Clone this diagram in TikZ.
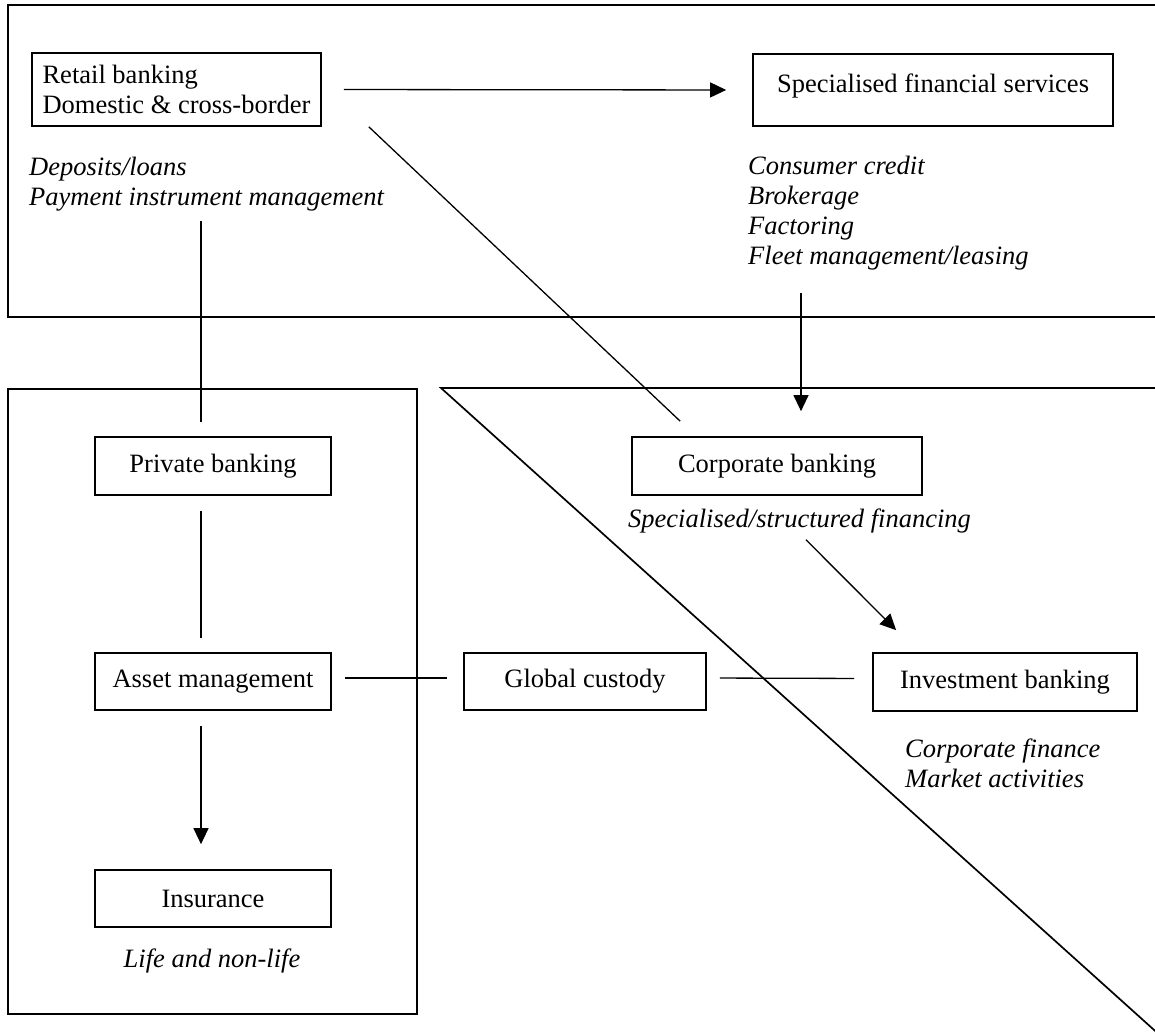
\documentclass[tikz,border=0pt]{standalone}
\usepackage{fontspec}
\setmainfont{Liberation Serif}
\usetikzlibrary{arrows.meta}

\begin{document}
\begin{tikzpicture}[x=1pt, y=-1pt,
	every node/.style={font=\fontsize{26.5}{30}\selectfont},
	unit/.style={draw, line width=1.7pt, inner sep=0pt, minimum height=58pt},
	note/.style={font=\fontsize{26.5}{30}\selectfont\itshape, align=left, inner sep=0pt},
	frame/.style={line width=1.7pt},
	link/.style={line width=1.3pt},
	flow/.style={link, -{Triangle[length=16pt,width=15pt]}}]
\useasboundingbox (0,0) rectangle (1155,1033);

% the three areas
\draw [frame] (1160,5) -- (8,5) -- (8,317) -- (1160,317);
\draw [frame] (8,389) rectangle (417,1014);
\draw [frame] (1160,388) -- (441,388) -- (1160,1035.3);

\node [unit, minimum width=289pt, minimum height=73pt, align=left] (retail) at (176.5,89.5) {Retail banking\\Domestic \& cross-border};
\node [unit, minimum width=360pt, inner ysep=10pt, text height=28pt, text depth=24pt] (sfs) at (933,90) {Specialised financial services};
\node [note, anchor=west] (retailnote) at (29,184) {Deposits/loans\\Payment instrument management};
\node [note, anchor=west] (sfsnote) at (748,213) {Consumer credit\\Brokerage\\Factoring\\Fleet management/leasing};

\node [unit, minimum width=236pt] (private) at (213,466) {Private banking};
\node [unit, minimum width=236pt, minimum height=57pt] (asset) at (213,681.5) {Asset management};
\node [unit, minimum width=236pt, minimum height=57pt] (insurance) at (213,898.5) {Insurance};
\node [note] (insnote) at (212,961) {Life and non-life};

\node [unit, minimum width=242pt, minimum height=57pt] (custody) at (585,681.5) {Global custody};
\node [unit, minimum width=290pt] (corporate) at (777,466) {Corporate banking};
\node [note, anchor=west] (corpnote) at (628,521) {Specialised/structured financing};
\node [unit, minimum width=264pt] (investment) at (1005,682) {Investment banking};
\node [note, anchor=west] (invnote) at (905,763) {Corporate finance\\Market activities};

\coordinate (pbtop) at ([xshift=-12pt]private.north);
\coordinate (cbtop) at ([xshift=24pt]corporate.north);

\draw [flow, shorten <=22pt, shorten >=26pt] (retail.east) -- (sfs.west);
\draw [link, shorten <=10pt, shorten >=14pt] (pbtop |- retailnote.south) -- (pbtop);
\draw [flow, shorten <=23pt, shorten >=25pt] (cbtop |- sfsnote.south) -- (cbtop);
\draw [link] ([xshift=47pt]retail.south east) -- ([xshift=49pt,yshift=15pt]corporate.north west);
\draw [link, shorten <=15pt, shorten >=14pt] ([xshift=-12pt]private.south) -- ([xshift=-12pt]asset.north);
\draw [flow, shorten <=15pt, shorten >=25pt] ([xshift=-12pt]asset.south) -- ([xshift=-12pt]insurance.north);
\draw [link, shorten <=13pt, shorten >=16pt] ([yshift=3.5pt]asset.east) -- ([yshift=3.5pt]custody.west);
\draw [link, shorten <=13pt, shorten >=18pt] ([yshift=3.5pt]custody.east) -- ([yshift=3.5pt]investment.west);
\draw [flow, shorten <=9pt] (corpnote.south) -- ([xshift=24pt,yshift=22pt]investment.north west);
\end{tikzpicture}
\end{document}
